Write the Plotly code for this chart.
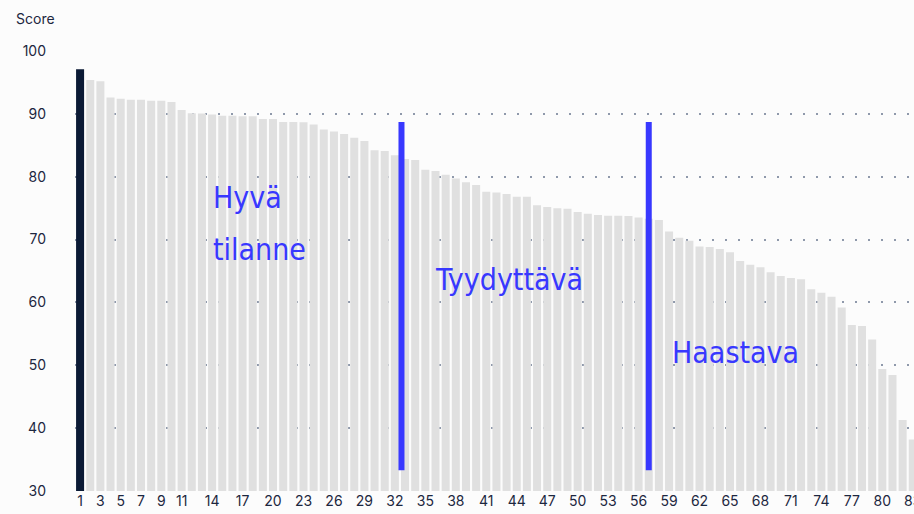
import plotly.graph_objects as go

# ranks 1..83 and their scores
ranks = list(range(1, 84))
scores = [
    97.1, 95.4, 95.2, 92.6, 92.4, 92.25, 92.25, 92.1, 92.1, 91.9,
    90.6, 90.1, 90.05, 89.9, 89.7, 89.7, 89.6, 89.6, 89.2, 89.2,
    88.7, 88.7, 88.65, 88.3, 87.5, 87.2, 86.8, 86.2, 85.7, 84.2,
    84.1, 83.4, 82.8, 82.65, 81.1, 80.9, 80.3, 79.7, 79.1, 78.7,
    77.6, 77.5, 77.25, 76.8, 76.8, 75.45, 75.2, 75.0, 74.9, 74.4,
    74.1, 73.9, 73.8, 73.8, 73.75, 73.5, 73.3, 73.1, 71.3, 70.3,
    69.8, 68.9, 68.8, 68.5, 68.0, 66.6, 66.0, 65.6, 64.8, 64.2,
    63.9, 63.7, 62.1, 61.55, 60.9, 59.2, 56.4, 56.25, 54.1, 49.4,
    48.45, 41.3, 38.2,
]
x_ticks = [1, 3, 5, 7, 9, 11, 14, 17, 20, 23, 26, 29, 32, 35, 38, 41, 44,
           47, 50, 53, 56, 59, 62, 65, 68, 71, 74, 77, 80, 83]
y_ticks = [30, 40, 50, 60, 70, 80, 90, 100]

# group dividers and labels
dividers = [32.65, 57.0]
divider_span = [33.3, 88.7]
group_labels = ["Hyvä", "tilanne", "Tyydyttävä", "Haastava"]
label_x = [13.85, 13.85, 35.8, 59.05]
label_y = [76.7, 68.4, 63.6, 52.0]

navy = "#0b1a35"
grey = "#e0e0e0"
blue = "#3838ff"
ink = "#1c2740"

bar_colors = [navy] + [grey] * (len(scores) - 1)

fig = go.Figure(go.Bar(x=ranks, y=scores, marker=dict(color=bar_colors, line=dict(width=0)),
                       hoverinfo="x+y"))

for x in dividers:
    fig.add_shape(type="line", x0=x, x1=x, y0=divider_span[0], y1=divider_span[1],
                  xref="x", yref="y", line=dict(color=blue, width=6))

for text, x, y in zip(group_labels, label_x, label_y):
    fig.add_annotation(x=x, y=y, text=text, showarrow=False, xanchor="left", yanchor="middle",
                       font=dict(family="DejaVu Sans Condensed, sans-serif",
                                 size=30, color=blue))

fig.add_annotation(x=-0.0727, y=1.075, xref="paper", yref="paper", text="Score",
                   showarrow=False, xanchor="left", yanchor="middle",
                   font=dict(size=14, color=ink))

fig.update_layout(
    width=914, height=514,
    margin=dict(l=75, r=0, t=51, b=23, autoexpand=False),
    paper_bgcolor="#fcfcfc", plot_bgcolor="#fcfcfc",
    bargap=0.21, showlegend=False,
    font=dict(family="Inter, sans-serif", size=14, color=ink),
    xaxis=dict(range=[0.5, 83.12], tickmode="array", tickvals=x_ticks,
               showgrid=False, zeroline=False, showline=False, ticks="",
               ticklabeloverflow="allow", automargin=False,
               tickfont=dict(size=14, color=ink)),
    yaxis=dict(range=[30, 100], tickmode="array", tickvals=y_ticks,
               showgrid=True, gridcolor="#8f99ab", gridwidth=1.5, griddash="2px,11px",
               zeroline=False, showline=False, ticks="", ticklabelstandoff=28,
               automargin=False,
               tickfont=dict(size=14, color=ink)),
)

# drop the default 8px page margin so the figure fills the window
fig.write_html("out.html", config={"displayModeBar": False},
               post_script="document.body.style.margin='0';")
